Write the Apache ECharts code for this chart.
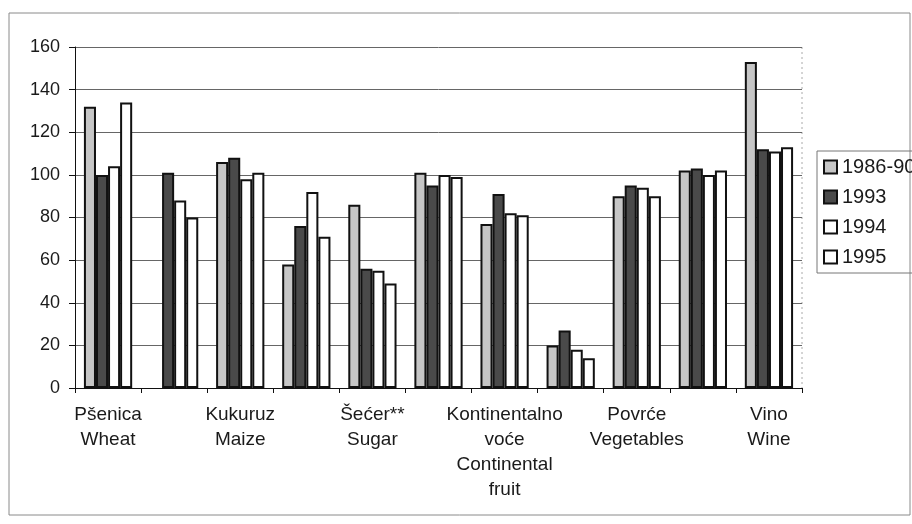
<!DOCTYPE html>
<html>
<head>
<meta charset="utf-8">
<script src="https://cdn.jsdelivr.net/npm/echarts@6/dist/echarts.min.js"></script>
<style>
  html, body { margin: 0; padding: 0; background: #fff; }
  #chart { width: 912px; height: 524px; }
</style>
</head>
<body>
<div id="chart"></div>
<script>
const categories = [
  "Pšenica\nWheat", "",
  "Kukuruz\nMaize", "",
  "Šećer**\nSugar", "",
  "Kontinentalno\nvoće\nContinental\nfruit", "",
  "Povrće\nVegetables", "",
  "Vino\nWine"
];
const years = ["1986-90", "1993", "1994", "1995"];
const v1986 = [132, null, 106, 58, 86, 101, 77, 20, 90, 102, 153];
const v1993 = [100, 101, 108, 76, 56, 95, 91, 27, 95, 103, 112];
const v1994 = [104, 88, 98, 92, 55, 100, 82, 18, 94, 100, 111];
const v1995 = [134, 80, 101, 71, 49, 99, 81, 14, 90, 102, 113];
const yTicks = [0, 20, 40, 60, 80, 100, 120, 140, 160];

const font = "'Liberation Sans', Arial, sans-serif";
const fills = ["#c6c6c6", "#4a4a4a", "#ffffff", "#ffffff"];
const values = [v1986, v1993, v1994, v1995];

const chart = echarts.init(document.getElementById("chart"));

chart.setOption({
  animation: false,
  backgroundColor: "#fff",
  textStyle: { fontFamily: font, color: "#1a1a1a" },
  graphic: [{
    type: "rect",
    shape: { x: 9, y: 13, width: 901, height: 502 },
    style: { fill: "none", stroke: "#8a8a8a", lineWidth: 1 }
  }, {
    type: "line",
    shape: { x1: 802, y1: 47, x2: 802, y2: 388 },
    style: { stroke: "#aaa", lineWidth: 1, lineDash: [2, 3] }
  }],
  grid: { left: 75, right: 110, top: 47, bottom: 136 },
  legend: {
    orient: "vertical",
    left: 817,
    top: 151,
    padding: [6, 20, 6, 6],
    itemGap: 10,
    itemWidth: 13,
    itemHeight: 13,
    icon: "rect",
    borderColor: "#777",
    borderWidth: 1,
    textStyle: { fontSize: 20, lineHeight: 20, color: "#1a1a1a", fontFamily: font },
    data: years
  },
  xAxis: {
    type: "category",
    data: categories,
    axisLine: { lineStyle: { color: "#111", width: 1 } },
    axisTick: { show: true, interval: 0, length: 5, lineStyle: { color: "#111" } },
    axisLabel: {
      interval: 0,
      margin: 14,
      fontSize: 19,
      lineHeight: 25,
      color: "#1a1a1a",
      fontFamily: font
    }
  },
  yAxis: {
    type: "value",
    min: 0,
    max: 160,
    interval: 20,
    axisLine: { show: true, lineStyle: { color: "#111", width: 1 } },
    axisTick: { show: true, length: 6, lineStyle: { color: "#111" } },
    axisLabel: {
      margin: 15,
      fontSize: 18,
      color: "#1a1a1a",
      fontFamily: font,
      formatter: v => (yTicks.includes(v) ? String(v) : "")
    },
    splitLine: { show: true, lineStyle: { color: "#666", width: 1 } }
  },
  series: years.map((y, i) => ({
    name: y,
    type: "bar",
    data: values[i],
    barGap: "0%",
    barCategoryGap: "27%",
    itemStyle: { color: fills[i], borderColor: "#111", borderWidth: 2 }
  }))
});
</script>
</body>
</html>
